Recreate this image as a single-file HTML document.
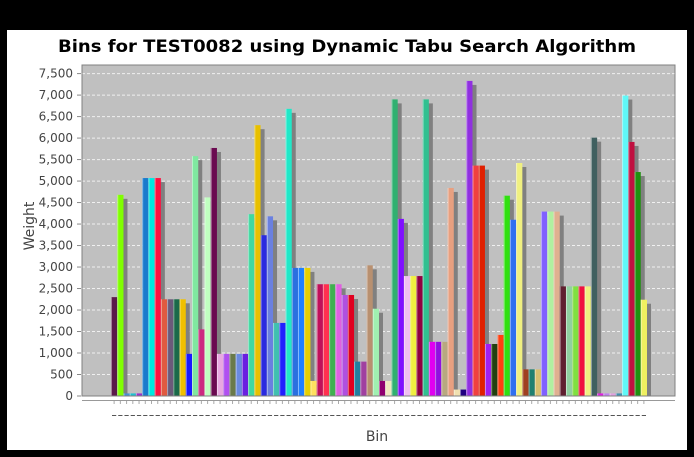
<!DOCTYPE html>
<html><head><meta charset="utf-8"><style>
html,body{margin:0;padding:0;background:#000;}
svg{display:block;font-family:"Liberation Sans",sans-serif;}
</style></head><body>
<svg id="chart" width="694" height="457" xmlns="http://www.w3.org/2000/svg">
<rect x="0" y="0" width="694" height="457" fill="#000"/>
<rect x="7" y="30" width="680" height="420" fill="#fff"/>
<text x="347" y="52" text-anchor="middle" font-size="17" font-weight="bold" fill="#000" font-family="DejaVu Sans, sans-serif" textLength="578" lengthAdjust="spacingAndGlyphs">Bins for TEST0082 using Dynamic Tabu Search Algorithm</text>
<rect x="82" y="65" width="593" height="331" fill="#c0c0c0"/>
<g id="grid"></g>
<g id="bars"></g>
<g id="yaxis"></g>
<g id="xaxis"></g>
<rect x="82" y="65" width="593" height="331" fill="none" stroke="#808080" stroke-width="1"/>
<text x="377" y="441" text-anchor="middle" font-size="14" fill="#444" font-family="DejaVu Sans, sans-serif">Bin</text>
<text x="34" y="226" text-anchor="middle" font-size="14" fill="#444" font-family="DejaVu Sans, sans-serif" transform="rotate(-90 34 226)">Weight</text>
</svg>
<script>
const weights=[2300,4680,60,60,60,5070,5070,5070,2250,2250,2250,2250,980,5580,1550,4620,5770,980,980,980,980,980,
4230,6300,3740,4180,1700,1700,6680,2980,2980,2980,350,2600,2600,2600,2600,2350,2350,800,800,3040,2030,
350,350,6900,4120,2790,2790,2790,6900,1260,1260,1260,4840,150,150,7330,5360,5360,1210,1210,1420,4660,4100,
5420,620,620,620,4290,4290,4290,2550,2550,2550,2550,2550,6010,60,60,60,60,6990,5910,5210,2240];
const colors=["#5a1a4a","#80ff00","#4a90d0","#20c0d0","#9933cc","#1a7acc","#00e8e0","#ff1040","#e05a40","#6a5a7a","#1a6a4a","#f0c000","#1a1aff","#80e8a0","#cc2a80","#c0ffc0","#6a0a50","#e8a8e0","#b050f0","#6a7a4a","#6a8ae0","#6a20e0",
"#40d8a0","#e8c000","#2a2ae0","#6a80e0","#40c0b0","#2020ff","#20e8c8","#2a70e0","#2080ff","#e8d000","#ffe060","#c0105a","#ff3050","#40b050","#e060e0","#b050e0","#e00020","#2080a0","#a040a0","#b89070","#a0f0b0",
"#900070","#f0e8c0","#30b070","#8010ff","#f0c0f0","#f0f040","#900040","#30c090","#e000f0","#9010e0","#b8a880","#e8a080","#f0e0b0","#200080","#9030e0","#f04040","#e02000","#a020f0","#204010","#ff4010","#30e010","#3070f0",
"#f0f080","#a04020","#208070","#d8c070","#8060ff","#b0f0a0","#e0b090","#602030","#90d0a0","#80e040","#f01040","#f0f080","#406060","#e020e0","#c080f0","#e0a0e0","#4090b0","#60f8f8","#c01040","#209010","#f0f060"];
const yTicks=[0,500,1000,1500,2000,2500,3000,3500,4000,4500,5000,5500,6000,6500,7000,7500];
const NS="http://www.w3.org/2000/svg";
const y0=396, yTop=65, yMax=7700;
function yScale(v){return y0-(v/yMax)*(y0-yTop);}
const xStart=111, band=(647-111)/weights.length;
function xScale(i){return xStart+i*band;}
function mk(tag,attrs,parent){const e=document.createElementNS(NS,tag);for(const k in attrs)e.setAttribute(k,attrs[k]);parent.appendChild(e);return e;}
const grid=document.getElementById('grid'),ya=document.getElementById('yaxis'),xa=document.getElementById('xaxis'),bars=document.getElementById('bars');
yTicks.forEach(t=>{
  const y=yScale(t);
  if(t>0){const g=mk('line',{x1:82,x2:675,y1:y,y2:y,stroke:'#f0f0f0','stroke-width':1,'stroke-dasharray':'3,2'},grid);
  
  }
  const tk=mk('line',{x1:77,x2:81,y1:y,y2:y,stroke:'#888'},ya);
  
  
  const tx=mk('text',{x:73,y:y+4,'text-anchor':'end','font-size':12,fill:'#444','font-family':'DejaVu Sans, sans-serif'},ya);
  tx.textContent=t.toLocaleString('en-US');
  
  
});
const al=mk('line',{x1:82,x2:675,y1:400.5,y2:400.5,stroke:'#999'},xa);


weights.forEach((w,i)=>{
  const x=xScale(i),y=yScale(w);
  const s=mk('rect',{x:x+4,y:Math.min(y+4,y0),width:band,height:Math.max(0,y0-y-4),fill:'#808080'},bars);
  
  
});
weights.forEach((w,i)=>{
  const x=xScale(i),y=yScale(w);
  const r=mk('rect',{x:x,y:y,width:band,height:y0-y,fill:colors[i%colors.length]},bars);
  
  
  const h=mk('rect',{x:x,y:y,width:1,height:y0-y,fill:'#fff','fill-opacity':0.45},bars);
  
  
  const tk=mk('line',{x1:x+band/2,x2:x+band/2,y1:401,y2:404,stroke:'#aaa'},xa);
  
  
  const d=mk('rect',{x:x+1,y:415,width:band-2,height:1,fill:'#555'},xa);
  
  
});
</script>
</body></html>
